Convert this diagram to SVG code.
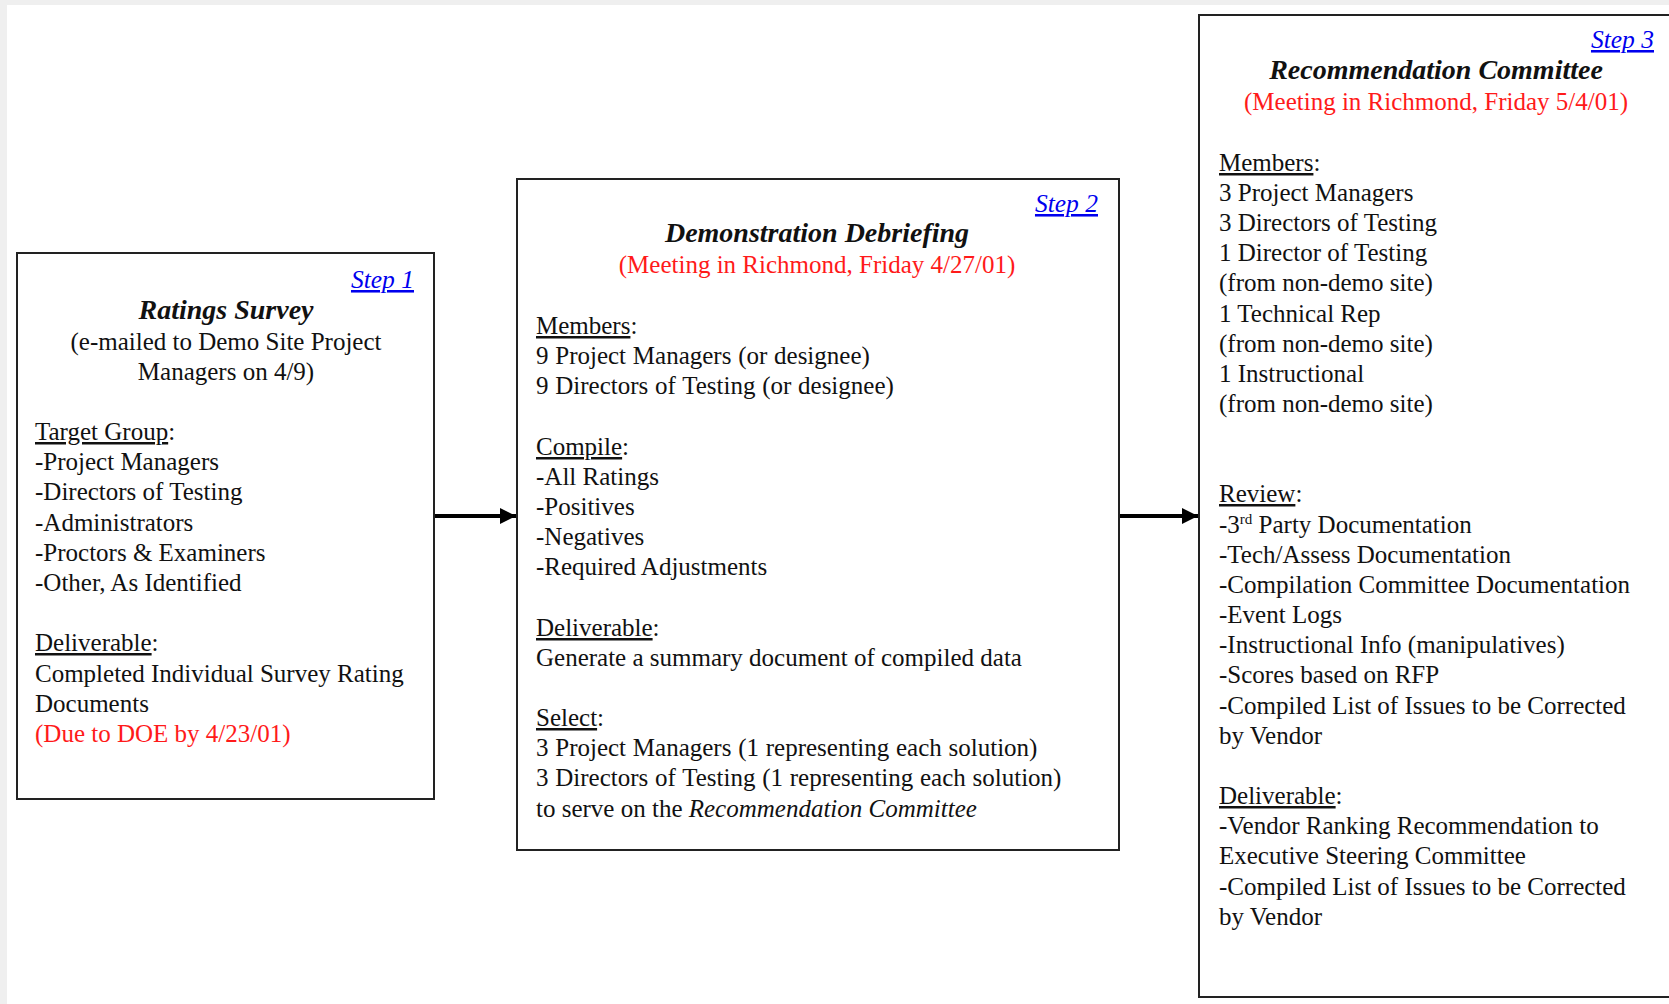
<svg xmlns="http://www.w3.org/2000/svg" width="1669" height="1004" viewBox="0 0 1669 1004">
<defs>
<style>
.box{fill:#fff;stroke:#222;stroke-width:2}
text{font-family:"Liberation Serif","Times New Roman",serif;font-size:25px;fill:#111}
.title{font-weight:bold;font-style:italic;font-size:28px;text-anchor:middle}
.step{fill:#0000ee;font-style:italic;font-size:25.5px;text-decoration:underline;text-anchor:end}
.red{fill:#ff1a1a}
.ctr{text-anchor:middle}
.conn{stroke:#000;stroke-width:4;fill:none}
</style>
<marker id="ah" viewBox="0 0 10 10" refX="10" refY="5" markerWidth="4" markerHeight="4" markerUnits="strokeWidth" orient="auto">
<path d="M0,0 L10,5 L0,10 z" fill="#000"/>
</marker>
</defs>
<rect x="0" y="0" width="1669" height="1004" fill="#efefef"/>
<rect x="7" y="5" width="1662" height="999" fill="#fff"/>

<g id="connectors">
<line class="conn" x1="435" y1="516" x2="516" y2="516" marker-end="url(#ah)"/>
<line class="conn" x1="1120" y1="516" x2="1198" y2="516" marker-end="url(#ah)"/>
</g>

<g id="step1">
<rect class="box" x="17" y="253" width="417" height="546"/>
<text class="step" x="414" y="288">Step 1</text>
<text class="title" x="226" y="319">Ratings Survey</text>
<text class="ctr" x="226" y="350">(e-mailed to Demo Site Project</text>
<text class="ctr" x="226" y="380">Managers on 4/9)</text>
<text x="35" y="440"><tspan text-decoration="underline">Target Group</tspan>:</text>
<text x="35" y="470">-Project Managers</text>
<text x="35" y="500">-Directors of Testing</text>
<text x="35" y="531">-Administrators</text>
<text x="35" y="561">-Proctors &amp; Examiners</text>
<text x="35" y="591">-Other, As Identified</text>
<text x="35" y="651"><tspan text-decoration="underline">Deliverable</tspan>:</text>
<text x="35" y="682">Completed Individual Survey Rating</text>
<text x="35" y="712">Documents</text>
<text class="red" x="35" y="742">(Due to DOE by 4/23/01)</text>
</g>

<g id="step2">
<rect class="box" x="517" y="179" width="602" height="671"/>
<text class="step" x="1098" y="212">Step 2</text>
<text class="title" x="817" y="242">Demonstration Debriefing</text>
<text class="ctr red" x="817" y="273">(Meeting in Richmond, Friday 4/27/01)</text>
<text x="536" y="334"><tspan text-decoration="underline">Members</tspan>:</text>
<text x="536" y="364" word-spacing="0.5">9 Project Managers  (or designee)</text>
<text x="536" y="394" word-spacing="0.5">9 Directors of Testing  (or designee)</text>
<text x="536" y="455"><tspan text-decoration="underline">Compile</tspan>:</text>
<text x="536" y="485">-All Ratings</text>
<text x="536" y="515">-Positives</text>
<text x="536" y="545">-Negatives</text>
<text x="536" y="575">-Required Adjustments</text>
<text x="536" y="636"><tspan text-decoration="underline">Deliverable</tspan>:</text>
<text x="536" y="666">Generate a summary document of compiled data</text>
<text x="536" y="726"><tspan text-decoration="underline">Select</tspan>:</text>
<text x="536" y="756" word-spacing="0.5">3 Project Managers  (1 representing each solution)</text>
<text x="536" y="786" word-spacing="0.5">3 Directors of Testing  (1 representing each solution)</text>
<text x="536" y="817">to serve on the <tspan font-style="italic">Recommendation Committee</tspan></text>
</g>

<g id="step3">
<rect class="box" x="1199" y="15" width="480" height="982"/>
<text class="step" x="1654" y="48">Step 3</text>
<text class="title" x="1436" y="79">Recommendation Committee</text>
<text class="ctr red" x="1436" y="110">(Meeting in Richmond, Friday 5/4/01)</text>
<text x="1219" y="171"><tspan text-decoration="underline">Members</tspan>:</text>
<text x="1219" y="201">3 Project Managers</text>
<text x="1219" y="231">3 Directors of Testing</text>
<text x="1219" y="261">1 Director of Testing</text>
<text x="1219" y="291">(from non-demo site)</text>
<text x="1219" y="322">1 Technical  Rep</text>
<text x="1219" y="352">(from non-demo site)</text>
<text x="1219" y="382">1 Instructional</text>
<text x="1219" y="412">(from non-demo site)</text>
<text x="1219" y="502"><tspan text-decoration="underline">Review</tspan>:</text>
<text x="1219" y="533">-3<tspan font-size="15" dy="-9">rd</tspan><tspan dy="9"> Party Documentation</tspan></text>
<text x="1219" y="563">-Tech/Assess  Documentation</text>
<text x="1219" y="593">-Compilation Committee  Documentation</text>
<text x="1219" y="623">-Event Logs</text>
<text x="1219" y="653">-Instructional Info (manipulatives)</text>
<text x="1219" y="683">-Scores based on RFP</text>
<text x="1219" y="714">-Compiled List of Issues to be Corrected</text>
<text x="1219" y="744">by Vendor</text>
<text x="1219" y="804"><tspan text-decoration="underline">Deliverable</tspan>:</text>
<text x="1219" y="834">-Vendor Ranking  Recommendation  to</text>
<text x="1219" y="864">Executive Steering Committee</text>
<text x="1219" y="895">-Compiled List of Issues to be Corrected</text>
<text x="1219" y="925">by Vendor</text>
</g>
</svg>
